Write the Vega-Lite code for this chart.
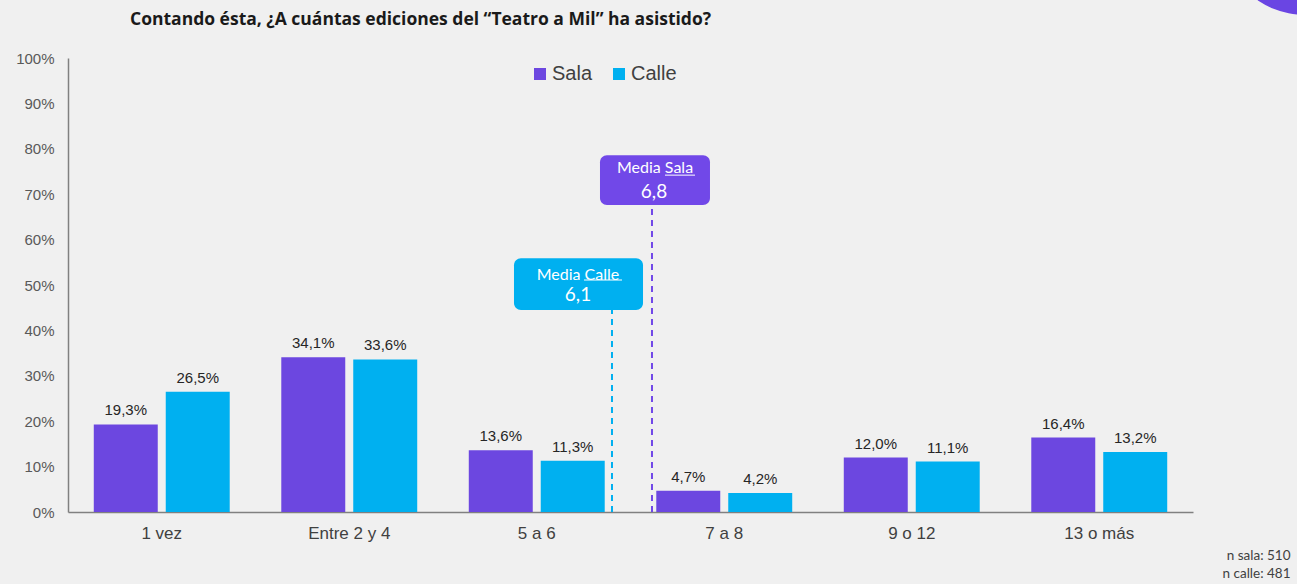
{
  "$schema": "https://vega.github.io/schema/vega-lite/v6.json",
  "width": 1125,
  "height": 454,
  "autosize": {"type": "none"},
  "padding": {"left": 68, "top": 58, "right": 104, "bottom": 72},
  "background": "#f0f0f0",
  "config": {
    "locale": {"number": {"decimal": ",", "thousands": ".", "grouping": [3], "currency": ["$", ""]}},
    "view": {"stroke": null},
    "font": "Liberation Sans"
  },
  "title": {
    "text": "Contando ésta, ¿A cuántas ediciones del “Teatro a Mil” ha asistido?",
    "anchor": "start",
    "frame": "group",
    "dx": 62,
    "dy": 218,
    "offset": 22,
    "font": "Open Sans",
    "fontSize": 17.5,
    "fontWeight": "bold",
    "color": "#1a1a1a",
    "baseline": "alphabetic"
  },
  "datasets": {
    "barras": [
      {"categoria": "1 vez", "serie": "Sala", "valor": 0.193},
      {"categoria": "1 vez", "serie": "Calle", "valor": 0.265},
      {"categoria": "Entre 2 y 4", "serie": "Sala", "valor": 0.341},
      {"categoria": "Entre 2 y 4", "serie": "Calle", "valor": 0.336},
      {"categoria": "5 a 6", "serie": "Sala", "valor": 0.136},
      {"categoria": "5 a 6", "serie": "Calle", "valor": 0.113},
      {"categoria": "7 a 8", "serie": "Sala", "valor": 0.047},
      {"categoria": "7 a 8", "serie": "Calle", "valor": 0.042},
      {"categoria": "9 o 12", "serie": "Sala", "valor": 0.120},
      {"categoria": "9 o 12", "serie": "Calle", "valor": 0.111},
      {"categoria": "13 o más", "serie": "Sala", "valor": 0.164},
      {"categoria": "13 o más", "serie": "Calle", "valor": 0.132}
    ],
    "medias": [
      {"serie": "Sala", "media": 6.8},
      {"serie": "Calle", "media": 6.1}
    ],
    "adorno": [{"forma": "círculo"}]
  },
  "layer": [
    {
      "data": {"name": "barras"},
      "encoding": {
        "x": {
          "field": "categoria",
          "type": "nominal",
          "sort": null,
          "scale": {"paddingInner": 0.275, "paddingOuter": 0.1375},
          "axis": {
            "labelAngle": 0,
            "ticks": false,
            "labelFontSize": 17,
            "labelColor": "#404040",
            "labelPadding": 13,
            "domainColor": "#808080",
            "domainWidth": 1.5,
            "title": ["n sala: 510", "n calle: 481"],
            "titleX": 1222,
            "titleY": 36,
            "titleAlign": "right",
            "titleBaseline": "top",
            "titleFont": "Lato",
            "titleFontSize": 13.5,
            "titleFontWeight": "normal",
            "titleColor": "#404040",
            "titleLineHeight": 18
          }
        },
        "xOffset": {
          "field": "serie",
          "type": "nominal",
          "sort": ["Sala", "Calle"],
          "scale": {"paddingInner": 0.111, "paddingOuter": 0}
        },
        "y": {
          "field": "valor",
          "type": "quantitative",
          "scale": {"domain": [0, 1], "nice": false},
          "axis": {
            "format": ".0%",
            "values": [0, 0.1, 0.2, 0.3, 0.4, 0.5, 0.6, 0.7, 0.8, 0.9, 1],
            "grid": false,
            "ticks": false,
            "labelFontSize": 15,
            "labelColor": "#595959",
            "labelPadding": 14,
            "domainColor": "#808080",
            "domainWidth": 1.5,
            "title": null
          }
        }
      },
      "layer": [
        {
          "mark": {"type": "bar"},
          "encoding": {
            "color": {
              "field": "serie",
              "type": "nominal",
              "scale": {"domain": ["Sala", "Calle"], "range": ["#6c47e0", "#00b0f0"]},
              "legend": {
                "orient": "none",
                "legendX": 462,
                "legendY": 6,
                "direction": "horizontal",
                "title": null,
                "symbolType": "square",
                "symbolSize": 144,
                "symbolStrokeWidth": 0,
                "labelFontSize": 20,
                "labelColor": "#404040",
                "labelOffset": 2,
                "columnPadding": 16
              }
            }
          }
        },
        {
          "mark": {"type": "text", "baseline": "bottom", "dy": -6, "fontSize": 15, "color": "#262626"},
          "encoding": {
            "text": {"field": "valor", "type": "quantitative", "format": ".1%"}
          }
        }
      ]
    },
    {
      "layer": [
        {
          "data": {"name": "medias"},
          "transform": [{"filter": "datum.serie == 'Calle'"}],
          "mark": {"type": "rule", "color": "#00b0f0", "strokeWidth": 2, "strokeDash": [6, 5]},
          "encoding": {
            "x": {"field": "media", "type": "quantitative", "scale": {"domain": [-3.42, 16.268], "nice": false, "zero": false}, "axis": null},
            "y": {"datum": 0, "type": "quantitative", "scale": {"domain": [0, 1], "nice": false}},
            "y2": {"datum": 0.445}
          }
        },
        {
          "data": {"name": "medias"},
          "transform": [{"filter": "datum.serie == 'Sala'"}],
          "mark": {"type": "rule", "color": "#7148e8", "strokeWidth": 2, "strokeDash": [6, 5]},
          "encoding": {
            "x": {"field": "media", "type": "quantitative", "scale": {"domain": [-3.42, 16.268], "nice": false, "zero": false}, "axis": null},
            "y": {"datum": 0, "type": "quantitative", "scale": {"domain": [0, 1], "nice": false}},
            "y2": {"datum": 0.676}
          }
        },
        {
          "data": {"name": "medias"},
          "transform": [{"filter": "datum.serie == 'Calle'"}],
          "mark": {"type": "rect", "color": "#00b0f0", "cornerRadius": 7},
          "encoding": {
            "x": {"datum": 4.385, "type": "quantitative", "scale": {"domain": [-3.42, 16.268], "nice": false, "zero": false}, "axis": null},
            "x2": {"datum": 6.643},
            "y": {"datum": 0.445, "type": "quantitative", "scale": {"domain": [0, 1], "nice": false}},
            "y2": {"datum": 0.559}
          }
        },
        {
          "data": {"name": "medias"},
          "transform": [{"filter": "datum.serie == 'Sala'"}],
          "mark": {"type": "rect", "color": "#7148e8", "cornerRadius": 7},
          "encoding": {
            "x": {"datum": 5.890, "type": "quantitative", "scale": {"domain": [-3.42, 16.268], "nice": false, "zero": false}, "axis": null},
            "x2": {"datum": 7.815},
            "y": {"datum": 0.676, "type": "quantitative", "scale": {"domain": [0, 1], "nice": false}},
            "y2": {"datum": 0.786}
          }
        },
        {
          "data": {"name": "medias"},
          "transform": [{"filter": "datum.serie == 'Calle'"}],
          "mark": {"type": "text", "color": "white", "font": "Lato", "fontSize": 16, "baseline": "middle", "align": "center"},
          "encoding": {
            "x": {"datum": 5.505, "type": "quantitative", "scale": {"domain": [-3.42, 16.268], "nice": false, "zero": false}, "axis": null},
            "y": {"datum": 0.522, "type": "quantitative", "scale": {"domain": [0, 1], "nice": false}},
            "text": {"value": "Media Calle"}
          }
        },
        {
          "data": {"name": "medias"},
          "transform": [{"filter": "datum.serie == 'Calle'"}],
          "mark": {"type": "text", "color": "white", "font": "Lato", "fontSize": 19, "baseline": "middle", "align": "center"},
          "encoding": {
            "x": {"datum": 5.505, "type": "quantitative", "scale": {"domain": [-3.42, 16.268], "nice": false, "zero": false}, "axis": null},
            "y": {"datum": 0.478, "type": "quantitative", "scale": {"domain": [0, 1], "nice": false}},
            "text": {"field": "media", "type": "quantitative", "format": ".1f"}
          }
        },
        {
          "data": {"name": "medias"},
          "transform": [{"filter": "datum.serie == 'Sala'"}],
          "mark": {"type": "text", "color": "white", "font": "Lato", "fontSize": 16, "baseline": "middle", "align": "center"},
          "encoding": {
            "x": {"datum": 6.853, "type": "quantitative", "scale": {"domain": [-3.42, 16.268], "nice": false, "zero": false}, "axis": null},
            "y": {"datum": 0.758, "type": "quantitative", "scale": {"domain": [0, 1], "nice": false}},
            "text": {"value": "Media Sala"}
          }
        },
        {
          "data": {"name": "medias"},
          "transform": [{"filter": "datum.serie == 'Sala'"}],
          "mark": {"type": "text", "color": "white", "font": "Lato", "fontSize": 19, "baseline": "middle", "align": "center"},
          "encoding": {
            "x": {"datum": 6.835, "type": "quantitative", "scale": {"domain": [-3.42, 16.268], "nice": false, "zero": false}, "axis": null},
            "y": {"datum": 0.705, "type": "quantitative", "scale": {"domain": [0, 1], "nice": false}},
            "text": {"field": "media", "type": "quantitative", "format": ".1f"}
          }
        },
        {
          "data": {"name": "medias"},
          "transform": [{"filter": "datum.serie == 'Calle'"}],
          "mark": {"type": "rule", "color": "white", "strokeWidth": 1},
          "encoding": {
            "x": {"datum": 5.610, "type": "quantitative", "scale": {"domain": [-3.42, 16.268], "nice": false, "zero": false}, "axis": null},
            "x2": {"datum": 6.275},
            "y": {"datum": 0.511, "type": "quantitative", "scale": {"domain": [0, 1], "nice": false}}
          }
        },
        {
          "data": {"name": "medias"},
          "transform": [{"filter": "datum.serie == 'Sala'"}],
          "mark": {"type": "rule", "color": "white", "strokeWidth": 1},
          "encoding": {
            "x": {"datum": 7.028, "type": "quantitative", "scale": {"domain": [-3.42, 16.268], "nice": false, "zero": false}, "axis": null},
            "x2": {"datum": 7.553},
            "y": {"datum": 0.742, "type": "quantitative", "scale": {"domain": [0, 1], "nice": false}}
          }
        },
        {
          "data": {"name": "adorno"},
          "mark": {"type": "point", "filled": true, "opacity": 1, "color": "#6a45e3", "size": 28224, "clip": false},
          "encoding": {
            "x": {"datum": 18.228, "type": "quantitative", "scale": {"domain": [-3.42, 16.268], "nice": false, "zero": false}, "axis": null},
            "y": {"datum": 1.28, "type": "quantitative", "scale": {"domain": [0, 1], "nice": false}}
          }
        }
      ]
    }
  ],
  "resolve": {"scale": {"x": "independent"}, "axis": {"x": "independent"}}
}
